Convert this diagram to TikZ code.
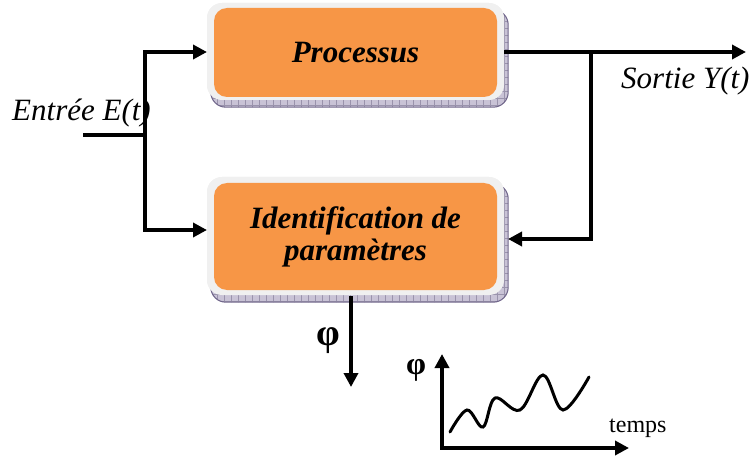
\documentclass[tikz,border=0pt]{standalone}
\usepackage{fontspec}
\setmainfont{Liberation Serif}
\usetikzlibrary{arrows.meta}
\definecolor{boxorange}{HTML}{F79646}
\definecolor{boxrim}{HTML}{F0F0F0}
\definecolor{shadowfill}{HTML}{C9C3D6}
\definecolor{shadowline}{HTML}{6E6489}
\tikzset{
  wire/.style={line width=4pt},
  arr/.style={wire,-{Triangle[length=14pt,width=14pt]}},
  rimbox/.style={draw=none,fill=boxrim,rounded corners=15pt,inner sep=0pt},
  corebox/.style={draw=none,fill=boxorange,rounded corners=13pt,inner sep=0pt,
    align=center,font=\fontsize{31}{36}\selectfont\bfseries\itshape},
  lbl/.style={inner sep=0pt,font=\fontsize{31}{36}\selectfont\itshape},
}
% shadow band with a fine grid, offset below and to the right of a box
\newcommand{\gridshadow}[1]{%
  \begin{scope}
    \clip[rounded corners=15pt] ([shift={(4,7)}]#1.north west) rectangle ([shift={(4,7)}]#1.south east);
    \fill[shadowfill] ([shift={(4,7)}]#1.north west) rectangle ([shift={(4,7)}]#1.south east);
    \draw[shadowline!70,line width=0.5pt,step=7pt] ([shift={(0,0)}]#1.north west) grid ([shift={(8,10)}]#1.south east);
  \end{scope}
  \draw[shadowline,line width=1pt,rounded corners=15pt] ([shift={(4,7)}]#1.north west) rectangle ([shift={(4,7)}]#1.south east);
}
\begin{document}
\begin{tikzpicture}[x=1pt,y=-1pt]
\useasboundingbox (0,0) rectangle (752,457);

% process block
\node[rimbox,minimum width=297pt,minimum height=97pt] (proc) at (355.5,51.5) {};
\gridshadow{proc}
\node[rimbox,minimum width=297pt,minimum height=97pt] (procrim) at (355.5,51.5) {};
\node[corebox,minimum width=283pt,minimum height=89pt] (proccore) at (355.5,52.5) {Processus};

% identification block
\node[rimbox,minimum width=297pt,minimum height=118pt] (ident) at (355.5,236) {};
\gridshadow{ident}
\node[rimbox,minimum width=297pt,minimum height=118pt] (identrim) at (355.5,236) {};
\node[corebox,minimum width=283pt,minimum height=107pt] (identcore) at (355.5,236.5)
  {Identification de\\[-4pt]paramètres};

% labels
\node[lbl,anchor=west] (ein) at (12,113) {Entrée E(t)};
\node[lbl,anchor=west] (yout) at (621,81) {Sortie Y(t)};
\node[inner sep=0pt,font=\fontsize{38}{42}\selectfont\bfseries] (phi) at (328,341) {φ};

% wiring points
\coordinate (src) at (83,135);
\coordinate (split) at (145,135);
\coordinate (toproc) at (207,52);
\coordinate (toident) at (207,230);
\coordinate (pout) at (504,52);
\coordinate (tap) at (591,52);
\coordinate (yend) at (746,52);
\coordinate (fbend) at (508,239);
\coordinate (phistart) at (351,296);
\coordinate (phiend) at (351,387);

% input distribution
\draw[wire] (src) -- (split);
\draw[arr] (split) |- (toproc);
\draw[arr] (split) |- (toident);
% output and feedback
\draw[arr] (pout) -- (yend);
\draw[arr] (tap) |- (fbend);
% estimated parameter
\draw[arr] (phistart) -- (phiend);

% small time plot of the parameter
\coordinate (origin) at (442,448);
\coordinate (ytip) at (442,354);
\coordinate (xtip) at (629,448);
\draw[wire,-{Triangle[length=14pt,width=14pt]}] ([yshift=2pt]origin) -- (ytip);
\draw[wire,-{Triangle[length=14pt,width=14pt]}] ([xshift=-2pt]origin) -- (xtip);
\node[inner sep=0pt,font=\fontsize{32}{36}\selectfont\bfseries] (phiax) at (416,370) {φ};
\node[inner sep=0pt,anchor=west,font=\fontsize{24}{28}\selectfont] (temps) at (609,428) {temps};
\draw[line width=3pt,line cap=round] plot[smooth,tension=0.6] coordinates
  {(450,432) (467,410) (483,427) (495,398) (520,410) (543,375) (563,410) (589,377)};
\end{tikzpicture}
\end{document}
